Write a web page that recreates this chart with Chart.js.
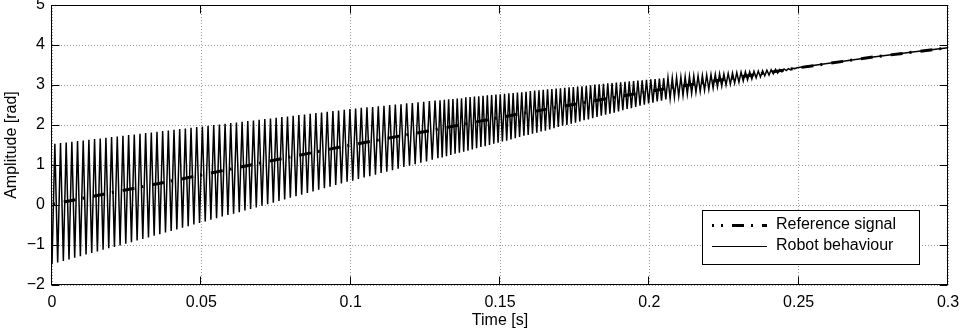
<!DOCTYPE html>
<html>
<head>
<meta charset="utf-8">
<title>Reference signal vs robot behaviour</title>
<script src="https://cdn.jsdelivr.net/npm/chart.js@4/dist/chart.umd.min.js"></script>
<style>
  html, body { margin: 0; padding: 0; background: #fff; }
  canvas { display: block; }
</style>
</head>
<body>
<canvas id="ampChart" width="960" height="334"></canvas>
<script>
// axis ticks
const timeTicks = [0, 0.05, 0.1, 0.15, 0.2, 0.25, 0.3];
const ampTicks = [-2, -1, 0, 1, 2, 3, 4, 5];

// reference signal
const refTime = [0, 0.025, 0.05, 0.075, 0.1, 0.125, 0.15, 0.175, 0.2, 0.225, 0.25, 0.275, 0.3];
const refValue = [0.02, 0.38, 0.75, 1.13, 1.50, 1.84, 2.19, 2.52, 2.84, 3.14, 3.43, 3.70, 3.93];

// robot behaviour: turning points of the oscillation (troughs / peaks)
const robotTime = [
  0, 0.00095, 0.0019, 0.00285, 0.0038, 0.00475, 0.0057, 0.00665, 0.0076, 0.00855,
  0.0095, 0.01045, 0.0114, 0.01235, 0.0133, 0.01425, 0.0152, 0.01615, 0.0171, 0.01805,
  0.019, 0.01995, 0.0209, 0.02185, 0.0228, 0.02375, 0.0247, 0.02565, 0.0266, 0.02755,
  0.0285, 0.02945, 0.0304, 0.03135, 0.0323, 0.03325, 0.0342, 0.03515, 0.0361, 0.03705,
  0.038, 0.03895, 0.0399, 0.04085, 0.0418, 0.04275, 0.0437, 0.04465, 0.0456, 0.04655,
  0.0475, 0.04845, 0.0494, 0.05035, 0.0513, 0.05225, 0.0532, 0.05415, 0.0551, 0.05605,
  0.057, 0.05795, 0.0589, 0.05985, 0.0608, 0.06175, 0.0627, 0.06365, 0.0646, 0.06555,
  0.0665, 0.06745, 0.0684, 0.06935, 0.0703, 0.07125, 0.0722, 0.07315, 0.0741, 0.07505,
  0.076, 0.07695, 0.0779, 0.07885, 0.0798, 0.08075, 0.0817, 0.08265, 0.0836, 0.08455,
  0.0855, 0.08645, 0.0874, 0.08835, 0.0893, 0.09025, 0.0912, 0.09215, 0.0931, 0.09405,
  0.095, 0.09595, 0.0969, 0.09785, 0.0988, 0.09975, 0.1007, 0.10165, 0.1026, 0.10355,
  0.1045, 0.10545, 0.1064, 0.10735, 0.1083, 0.10925, 0.1102, 0.11115, 0.1121, 0.11305,
  0.114, 0.11495, 0.1159, 0.11685, 0.1178, 0.11875, 0.1197, 0.12065, 0.1216, 0.12255,
  0.1235, 0.12445, 0.1254, 0.12635, 0.1273, 0.12825, 0.1292,
  0.12992, 0.13064, 0.13136, 0.13208, 0.1328, 0.13352, 0.13424, 0.13496, 0.13568, 0.1364,
  0.13712, 0.13784, 0.13856, 0.13928, 0.14, 0.14072, 0.14144, 0.14216, 0.14288, 0.1436,
  0.14432, 0.14504, 0.14576, 0.14648, 0.1472, 0.14792, 0.14864, 0.14936, 0.15008, 0.1508,
  0.15152, 0.15224, 0.15296, 0.15368, 0.1544, 0.15512, 0.15584, 0.15656, 0.15728, 0.158,
  0.15872, 0.15944, 0.16016, 0.16088, 0.1616, 0.16232, 0.16304, 0.16376, 0.16448, 0.1652,
  0.16592, 0.16664, 0.16736, 0.16808, 0.1688, 0.16952, 0.17024, 0.17096, 0.17168, 0.1724,
  0.17312, 0.17384, 0.17456, 0.17528, 0.176, 0.17672, 0.17744, 0.17816, 0.17888, 0.1796,
  0.18032, 0.18104, 0.18176, 0.18248, 0.1832, 0.18392, 0.18464, 0.18536, 0.18608, 0.1868,
  0.18752, 0.18824, 0.18896, 0.18968, 0.1904, 0.19112, 0.19184, 0.19256, 0.19328, 0.194,
  0.19472, 0.19544, 0.19616, 0.19688, 0.1976, 0.19832, 0.19904, 0.19976, 0.20048, 0.2012,
  0.20192, 0.20264, 0.20336, 0.20408, 0.2048, 0.20552, 0.20624, 0.20696, 0.20768, 0.2084,
  0.20912, 0.20984, 0.21056, 0.21128, 0.212, 0.21272, 0.21344, 0.21416, 0.21488, 0.2156,
  0.21632, 0.21704, 0.21776, 0.21848, 0.2192, 0.21992, 0.22064, 0.22136, 0.22208, 0.2228,
  0.22352, 0.22424, 0.22496, 0.22568, 0.2264, 0.22712, 0.22784, 0.22856, 0.22928, 0.23,
  0.23072, 0.23144, 0.23216, 0.23288, 0.2336, 0.23432, 0.23504, 0.23576, 0.23648, 0.2372,
  0.23792, 0.23864, 0.23936, 0.24008, 0.2408, 0.24152, 0.24224, 0.24296, 0.24368, 0.2444,
  0.24512, 0.24584, 0.24656, 0.24728, 0.248, 0.24872, 0.24944,
  0.2625, 0.275, 0.2875, 0.3
];
const robotValue = [
  -1.48, 1.53, -1.44, 1.55, -1.40, 1.56, -1.36, 1.58, -1.32, 1.60,
  -1.28, 1.61, -1.24, 1.63, -1.20, 1.65, -1.16, 1.66, -1.12, 1.68,
  -1.08, 1.70, -1.05, 1.71, -1.01, 1.73, -0.97, 1.75, -0.93, 1.76,
  -0.89, 1.78, -0.85, 1.80, -0.81, 1.81, -0.77, 1.83, -0.73, 1.85,
  -0.69, 1.86, -0.65, 1.88, -0.61, 1.90, -0.57, 1.91, -0.53, 1.93,
  -0.49, 1.95, -0.45, 1.96, -0.41, 1.98, -0.37, 2.00, -0.33, 2.01,
  -0.29, 2.03, -0.25, 2.05, -0.22, 2.06, -0.18, 2.08, -0.14, 2.10,
  -0.10, 2.11, -0.06, 2.13, -0.02, 2.15, 0.02, 2.16, 0.06, 2.18,
  0.10, 2.20, 0.14, 2.21, 0.18, 2.23, 0.22, 2.25, 0.26, 2.26,
  0.30, 2.28, 0.34, 2.30, 0.38, 2.31, 0.42, 2.33, 0.46, 2.35,
  0.50, 2.36, 0.54, 2.38, 0.58, 2.40, 0.61, 2.41, 0.65, 2.43,
  0.69, 2.44, 0.72, 2.45, 0.76, 2.47, 0.80, 2.48, 0.83, 2.50,
  0.87, 2.51, 0.91, 2.52, 0.95, 2.54, 0.98, 2.55, 1.02, 2.57,
  1.06, 2.58, 1.09, 2.60, 1.13, 2.61, 1.17,
  2.62, 1.19, 2.63, 1.22, 2.64, 1.25, 2.65, 1.28, 2.66, 1.31,
  2.67, 1.33, 2.69, 1.36, 2.70, 1.39, 2.71, 1.42, 2.72, 1.45,
  2.73, 1.47, 2.74, 1.50, 2.75, 1.53, 2.76, 1.56, 2.77, 1.59,
  2.78, 1.61, 2.79, 1.64, 2.80, 1.67, 2.81, 1.70, 2.82, 1.73,
  2.83, 1.75, 2.85, 1.78, 2.86, 1.81, 2.87, 1.84, 2.88, 1.86,
  2.89, 1.89, 2.90, 1.92, 2.91, 1.95, 2.92, 1.98, 2.93, 2.00,
  2.94, 2.03, 2.95, 2.06, 2.96, 2.09, 2.97, 2.12, 2.98, 2.14,
  2.99, 2.17, 3.01, 2.20, 3.02, 2.23, 3.03, 2.26, 3.04, 2.28,
  3.05, 2.31, 3.06, 2.34, 3.07, 2.37, 3.08, 2.40, 3.09, 2.42,
  3.10, 2.45, 3.11, 2.48, 3.12, 2.51, 3.13, 2.54, 3.14, 2.56,
  3.15, 2.59, 3.16, 2.61, 3.17, 2.64, 3.18, 2.66, 3.18, 2.69,
  3.19, 2.72, 3.20, 2.74, 3.21, 2.77, 3.22, 2.79, 3.23, 2.82,
  3.23, 2.84, 3.24, 2.87, 3.25, 2.89, 3.26, 2.92, 3.27, 2.95,
  3.28, 2.97, 3.28, 3.00, 3.29, 3.02, 3.30, 3.05, 3.31, 3.07,
  3.32, 3.10, 3.33, 3.13, 3.33, 3.15, 3.34, 3.18, 3.35, 3.20,
  3.36, 3.23, 3.37, 3.25, 3.38, 3.28, 3.39, 3.30, 3.39, 3.33,
  3.40, 3.36, 3.41, 3.38, 3.42, 3.41, 3.43,
  3.57, 3.70, 3.82, 3.93
];

const seriesNames = ['Reference signal', 'Robot behaviour'];

const toPoints = (xs, ys) => xs.map((x, i) => ({ x: x, y: ys[i] }));

// MATLAB style box, inward ticks and legend inside the axes
const matlabFrame = {
  id: 'matlabFrame',
  afterDraw(chart) {
    const { ctx, chartArea: a, scales } = chart;
    const L = Math.round(a.left) - 0.5, R = Math.round(a.right) - 0.5;
    const T = Math.round(a.top) + 0.5, B = Math.round(a.bottom) - 0.5;
    const tick = 8;
    ctx.save();
    ctx.strokeStyle = '#000';
    ctx.lineWidth = 1;
    ctx.setLineDash([]);
    ctx.strokeRect(L, T, R - L, B - T);
    ctx.beginPath();
    timeTicks.forEach(v => {
      const px = Math.round(scales.x.getPixelForValue(v)) - 0.5;
      ctx.moveTo(px, B); ctx.lineTo(px, B - tick);
      ctx.moveTo(px, T); ctx.lineTo(px, T + tick);
    });
    ampTicks.forEach(v => {
      const py = Math.round(scales.y.getPixelForValue(v)) + 0.5;
      ctx.moveTo(L, py); ctx.lineTo(L + tick, py);
      ctx.moveTo(R, py); ctx.lineTo(R - tick, py);
    });
    ctx.stroke();

    // legend box
    const bx = 702.5, by = 210.5, bw = 217, bh = 54;
    ctx.fillStyle = '#fff';
    ctx.fillRect(bx, by, bw, bh);
    ctx.strokeRect(bx, by, bw, bh);
    const rows = [225, 246];
    chart.data.datasets.forEach((ds, i) => {
      const y = rows[i] + 0.5;
      ctx.save();
      ctx.strokeStyle = ds.borderColor;
      ctx.lineWidth = ds.legendWidth || ds.borderWidth;
      ctx.setLineDash(ds.borderDash || []);
      ctx.lineDashOffset = ds.legendDashOffset || 0;
      ctx.beginPath();
      ctx.moveTo(712, y);
      ctx.lineTo(767, y);
      ctx.stroke();
      ctx.restore();
      ctx.fillStyle = '#000';
      ctx.font = '16px "Liberation Sans", Arial, sans-serif';
      ctx.textAlign = 'left';
      ctx.textBaseline = 'middle';
      ctx.fillText(ds.label, 776, rows[i]);
    });
    ctx.restore();
  }
};

Chart.defaults.font.family = '"Liberation Sans", Arial, sans-serif';
Chart.defaults.font.size = 16;
Chart.defaults.color = '#000';

new Chart(document.getElementById('ampChart'), {
  type: 'line',
  data: {
    datasets: [{
      label: seriesNames[0],
      data: toPoints(refTime, refValue),
      borderColor: '#000',
      borderWidth: 3,
      borderDash: [12, 7, 2, 9],
      borderDashOffset: 18,
      legendDashOffset: 10,
      pointRadius: 0,
      tension: 0,
      fill: false
    }, {
      label: seriesNames[1],
      data: toPoints(robotTime, robotValue),
      borderColor: '#000',
      borderWidth: 1.5,
      legendWidth: 1,
      pointRadius: 0,
      tension: 0,
      fill: false
    }]
  },
  options: {
    responsive: false,
    animation: false,
    events: [],
    layout: { padding: { top: 5, right: 12, bottom: 0, left: 0 } },
    plugins: {
      legend: { display: false },
      tooltip: { enabled: false }
    },
    scales: {
      x: {
        type: 'linear',
        min: 0,
        max: 0.3,
        afterBuildTicks: scale => { scale.ticks = timeTicks.map(v => ({ value: v })); },
        afterFit: scale => { scale.height = 49; scale.paddingLeft = 0; scale.paddingRight = 0; },
        ticks: {
          padding: 8,
          maxRotation: 0,
          autoSkip: false,
          callback: v => String(parseFloat(Number(v).toFixed(2)))
        },
        grid: { color: '#9a9a9a', lineWidth: 1, drawTicks: false },
        border: { display: false, dash: [1, 2] },
        title: { display: true, text: 'Time [s]', padding: { top: 0, bottom: 4 } }
      },
      y: {
        min: -2,
        max: 5,
        afterBuildTicks: scale => { scale.ticks = ampTicks.map(v => ({ value: v })); },
        afterFit: scale => { scale.width = 52; scale.paddingTop = 0; scale.paddingBottom = 0; },
        ticks: {
          padding: 7,
          autoSkip: false,
          callback: v => (v < 0 ? '\u2212' + Math.abs(v) : String(v))
        },
        grid: { color: '#9a9a9a', lineWidth: 1, drawTicks: false },
        border: { display: false, dash: [1, 2] },
        title: { display: true, text: 'Amplitude [rad]', padding: { top: 2, bottom: 0 } }
      }
    }
  },
  plugins: [matlabFrame]
});
</script>
</body>
</html>
